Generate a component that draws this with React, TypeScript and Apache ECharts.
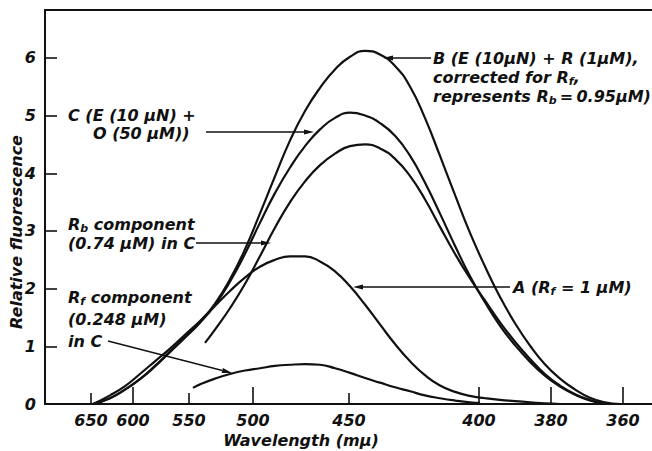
import { useEffect, useRef } from "react";
import * as echarts from "echarts";

// Non-linear wavelength scale of the original instrument: tick wavelengths and their relative positions
const TICK_WAVELENGTHS = [650, 600, 550, 500, 450, 400, 380, 360];
const TICK_POS = [0, 42, 98, 162, 258, 388, 460, 532];
const LONG_TICKS = [600, 500, 400, 380, 360];
const SHORT_TICKS = [650, 550, 450];
const Y_TICKS = [0, 1, 2, 3, 4, 5, 6];
const X_MIN = -46;
const X_MAX = 561;
const Y_MAX = 6.83;

// Wavelengths (mµ) at which the curves were read
const WL = [647.6, 627.4, 609.5, 593.8, 580.4, 567.0, 553.6, 541.4, 529.7, 518.0, 506.3, 496.4, 488.5, 480.7, 472.9, 465.1, 457.3, 449.6, 443.8, 438.1, 432.3, 426.5, 420.8, 415.0, 409.2, 403.5, 398.3, 394.2, 390.0, 385.8, 381.7, 377.5, 373.3, 369.2, 365.0, 360.8];

// Curve B: E (10 µN) + R (1 µM), corrected for Rf
const B_WL = WL;
const B_VAL = [0, 0.1, 0.25, 0.43, 0.66, 0.91, 1.16, 1.42, 1.74, 2.16, 2.68, 3.3, 3.95, 4.57, 5.08, 5.48, 5.8, 6.02, 6.12, 6.06, 5.86, 5.5, 4.96, 4.3, 3.62, 2.97, 2.38, 1.86, 1.4, 1.01, 0.69, 0.44, 0.25, 0.11, 0.03, 0];
// Curve C: E (10 µN) + O (50 µM)
const C_WL = WL.slice(0, 35);
const C_VAL = [0, 0.1, 0.25, 0.43, 0.65, 0.9, 1.15, 1.41, 1.72, 2.12, 2.6, 3.14, 3.66, 4.1, 4.47, 4.76, 4.96, 5.05, 5.0, 4.87, 4.65, 4.3, 3.84, 3.3, 2.74, 2.22, 1.76, 1.36, 1.02, 0.73, 0.49, 0.3, 0.16, 0.06, 0];
// Rb component (0.74 µM) in C
const RB_WL = [537.5, ...WL.slice(8, 35)];
const RB_VAL = [1.06, 1.29, 1.66, 2.08, 2.56, 3.06, 3.5, 3.86, 4.14, 4.34, 4.47, 4.5, 4.43, 4.25, 3.95, 3.55, 3.07, 2.6, 2.18, 1.79, 1.42, 1.08, 0.78, 0.52, 0.32, 0.17, 0.07, 0];
// Curve A: Rf = 1 µM
const A_WL = WL.slice(0, 32);
const A_VAL = [0, 0.15, 0.31, 0.52, 0.74, 0.96, 1.2, 1.44, 1.7, 1.96, 2.19, 2.38, 2.5, 2.56, 2.56, 2.47, 2.3, 2.04, 1.72, 1.38, 1.04, 0.74, 0.5, 0.32, 0.21, 0.14, 0.1, 0.07, 0.05, 0.03, 0.01, 0];
// Rf component (0.248 µM) in C
const RF_WL = [546.9, ...WL.slice(7, 26), 399.7];
const RF_VAL = [0.28, 0.34, 0.44, 0.52, 0.58, 0.62, 0.66, 0.68, 0.69, 0.68, 0.62, 0.54, 0.45, 0.37, 0.29, 0.22, 0.15, 0.1, 0.06, 0.03, 0.02];

function pos(wl: number): number {
  const n = TICK_WAVELENGTHS.length;
  let i = 0;
  while (i < n - 2 && wl < TICK_WAVELENGTHS[i + 1]) i++;
  const w0 = TICK_WAVELENGTHS[i], w1 = TICK_WAVELENGTHS[i + 1];
  const p0 = TICK_POS[i], p1 = TICK_POS[i + 1];
  return p0 + ((wl - w0) / (w1 - w0)) * (p1 - p0);
}
const posOf = (list: number[]) => list.map(pos);
function wlLabel(v: number): string {
  let best = 0;
  for (let i = 0; i < TICK_POS.length; i++) if (Math.abs(TICK_POS[i] - v) < Math.abs(TICK_POS[best] - v)) best = i;
  return String(TICK_WAVELENGTHS[best]);
}

const INK = "#111";
const FONT = "DejaVu Sans";
const base = { fontFamily: FONT, fontStyle: "italic", fontWeight: "bold", fontSize: 16, fill: INK } as any;
const rich = {
  n: { fontFamily: FONT, fontStyle: "italic", fontWeight: "bold", fontSize: 16, color: INK, lineHeight: 19 },
  s: { fontFamily: FONT, fontStyle: "italic", fontWeight: "bold", fontSize: 11, color: INK, lineHeight: 19, verticalAlign: "bottom" },
};

function label(x: number, y: number, text: string) {
  return {
    type: "text",
    x,
    y,
    style: { ...base, text, rich, textVerticalAlign: "middle", textAlign: "left" },
  };
}

function arrow(x1: number, y1: number, x2: number, y2: number) {
  const dx = x2 - x1, dy = y2 - y1;
  const L = Math.hypot(dx, dy);
  const ux = dx / L, uy = dy / L;
  const hl = 10, hw = 2.6;
  const bx = x2 - ux * hl, by = y2 - uy * hl;
  return [
    { type: "line", shape: { x1, y1, x2: bx, y2: by }, style: { stroke: INK, lineWidth: 1.4 } },
    {
      type: "polygon",
      shape: { points: [[x2, y2], [bx - uy * hw, by + ux * hw], [bx + uy * hw, by - ux * hw]] },
      style: { fill: INK },
    },
  ];
}

function curve(wl: number[], val: number[]) {
  return {
    type: "line",
    xAxisIndex: 0,
    showSymbol: false,
    symbol: "none",
    smooth: 0.5,
    lineStyle: { color: INK, width: 2.2 },
    data: wl.map((w, i) => [pos(w), val[i]]),
    z: 3,
  };
}

export default function App() {
  const ref = useRef<HTMLDivElement>(null);
  useEffect(() => {
    if (!ref.current) return;
    const chart = echarts.init(ref.current, null, { renderer: "svg" });
    const axisFont = { fontFamily: FONT, fontStyle: "italic", fontWeight: "bold", fontSize: 16, color: INK } as any;
    chart.setOption({
      animation: false,
      backgroundColor: "#fff",
      grid: { left: 45, right: 0, top: 10, bottom: 47 },
      xAxis: [
        {
          type: "value",
          min: X_MIN,
          max: X_MAX,
          position: "bottom",
          axisLine: { show: true, onZero: false, lineStyle: { color: INK, width: 2 } },
          axisTick: { show: true, inside: true, length: 17, customValues: posOf(LONG_TICKS), lineStyle: { color: INK, width: 1.6 } },
          axisLabel: { show: true, customValues: TICK_POS, formatter: (v: number) => wlLabel(v), margin: 8, ...axisFont },
          splitLine: { show: false },
        },
        {
          type: "value",
          min: X_MIN,
          max: X_MAX,
          position: "bottom",
          axisLine: { show: false, onZero: false },
          axisTick: { show: true, inside: true, length: 11, customValues: posOf(SHORT_TICKS), lineStyle: { color: INK, width: 1.6 } },
          axisLabel: { show: false },
          splitLine: { show: false },
        },
        {
          type: "value",
          min: X_MIN,
          max: X_MAX,
          position: "top",
          axisLine: { show: true, onZero: false, lineStyle: { color: INK, width: 2 } },
          axisTick: { show: false },
          axisLabel: { show: false },
          splitLine: { show: false },
        },
      ],
      yAxis: {
        type: "value",
        min: 0,
        max: Y_MAX,
        axisLine: { show: true, onZero: false, lineStyle: { color: INK, width: 2 } },
        axisTick: { show: true, inside: true, length: 12, customValues: Y_TICKS, lineStyle: { color: INK, width: 1.6 } },
        axisLabel: { show: true, customValues: Y_TICKS, margin: 9, ...axisFont },
        splitLine: { show: false },
      },
      series: [
        curve(B_WL, B_VAL),
        curve(C_WL, C_VAL),
        curve(RB_WL, RB_VAL),
        curve(A_WL, A_VAL),
        curve(RF_WL, RF_VAL),
      ],
      graphic: [
        {
          type: "text",
          x: 16,
          y: 232,
          rotation: Math.PI / 2,
          style: { ...base, text: "Relative fluorescence", textAlign: "center", textVerticalAlign: "middle" },
        },
        {
          type: "text",
          x: 301,
          y: 440,
          style: { ...base, text: "Wavelength (mμ)", textAlign: "center", textVerticalAlign: "middle" },
        },
        label(433, 58, "{n|B (E (10μN) + R (1μM),}"),
        label(433, 77, "{n|corrected for R}{s|f}{n|,}"),
        label(433, 96, "{n|represents R}{s|b}{n|\u2009=\u20090.95μM)}"),
        ...arrow(431, 58, 383, 58),
        label(68, 115, "{n|C (E (10 μN) +}"),
        label(93, 133, "{n|O (50 μM))}"),
        ...arrow(206, 132, 314, 132),
        label(68, 224, "{n|R}{s|b}{n| component}"),
        label(68, 243, "{n|(0.74 μM) in C}"),
        ...arrow(196, 243, 271, 243),
        label(68, 297, "{n|R}{s|f}{n| component}"),
        label(68, 319, "{n|(0.248 μM)}"),
        label(68, 341, "{n|in C}"),
        ...arrow(108, 341, 232, 373),
        label(513, 287, "{n|A (R}{s|f}{n| = 1 μM)}"),
        ...arrow(510, 287, 353, 287),
      ],
    });
    return () => chart.dispose();
  }, []);
  return <div ref={ref} style={{ position: "fixed", left: 0, top: 0, width: 652, height: 451 }} />;
}
